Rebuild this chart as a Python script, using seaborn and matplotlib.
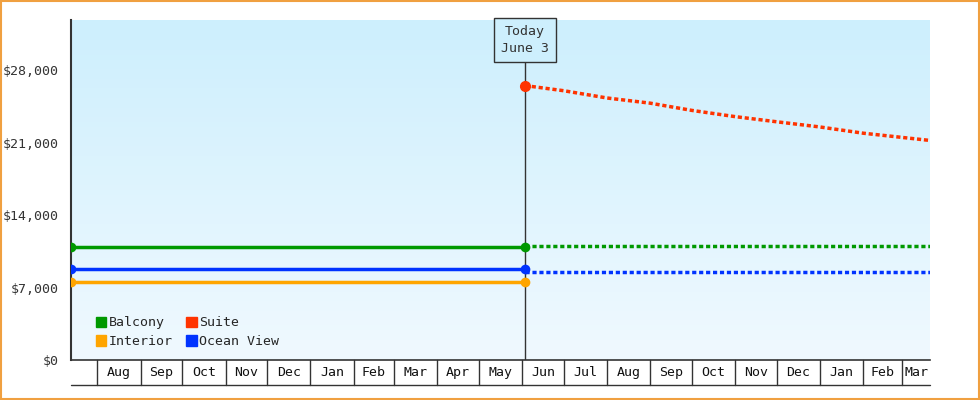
import numpy as np
import pandas as pd
import matplotlib
matplotlib.use("Agg")
import matplotlib.pyplot as plt
import matplotlib.transforms as mtrans
from matplotlib.patches import Rectangle
import seaborn as sns

sns.set_style("white")
plt.rcParams['font.family'] = ['DejaVu Sans Mono']

# data
start = "2023-07-13"
today = "2024-06-03"
end = "2025-03-21"
balcony_past = [10900, 10900]
balcony_future = [11000, 11000]
ocean_past = [8800, 8800]
ocean_future = [8500, 8500]
interior_past = [7500, 7500]
suite_dates = ["2024-06-03", "2024-07-01", "2024-08-01", "2024-09-01", "2024-10-01",
               "2024-11-01", "2024-12-01", "2025-01-01", "2025-02-01", "2025-03-21"]
suite_vals = [26500, 26000, 25300, 24800, 24100, 23500, 23000, 22500, 21900, 21200]
months = pd.date_range("2023-08-01", "2025-03-01", freq="MS")
month_labels = [d.strftime("%b") for d in months]
colors = {"Balcony": "#009900", "Interior": "#ffa500", "Suite": "#ff3300", "Ocean View": "#0033ff"}

fig = plt.figure(figsize=(9.8, 4), dpi=100)
ax = fig.add_axes([71/980, 40/400, 859/980, 340/400])

t0, t1, tn = pd.Timestamp(start), pd.Timestamp(today), pd.Timestamp(end)
ax.set_xlim(t0, tn)
ax.set_ylim(0, 32830)

grad = np.linspace(0, 1, 256).reshape(-1, 1)
cmap = matplotlib.colors.LinearSegmentedColormap.from_list("g", ["#cdeffd", "#f0f9ff"])
ax.imshow(grad, cmap=cmap, extent=[0, 1, 0, 1], transform=ax.transAxes, aspect="auto", zorder=0)

dot = (0, (1.2, 0.8))
past = [t0, t1]
fut = [t1, tn]
for name, pv, fv in [("Balcony", balcony_past, balcony_future),
                     ("Ocean View", ocean_past, ocean_future),
                     ("Interior", interior_past, None)]:
    sns.lineplot(x=past, y=pv, ax=ax, color=colors[name], lw=2.5, marker="o",
                 markersize=7, markeredgewidth=0, zorder=3)
    if fv is not None:
        sns.lineplot(x=fut, y=fv, ax=ax, color=colors[name], lw=2.5, linestyle=dot, zorder=3)
sdates = pd.to_datetime(suite_dates)
sns.lineplot(x=sdates, y=suite_vals, ax=ax, color=colors["Suite"], lw=2.5, linestyle=dot, zorder=3)
ax.plot([sdates[0]], [suite_vals[0]], "o", color=colors["Suite"], ms=7, zorder=4)

# today line and label
ax.axvline(t1, color="#333333", lw=1, zorder=2)
ax.annotate("Today\nJune 3", xy=(t1, 1 - 20 / 340), xycoords=("data", "axes fraction"),
            ha="center", va="center", fontsize=9.5, color="#333333", linespacing=1.4,
            bbox=dict(boxstyle="square,pad=0.55", fc="#cdeffd", ec="#333333", lw=1),
            annotation_clip=False, zorder=5)

# y axis
ticks = np.arange(0, 28001, 7000)
ax.set_yticks(ticks)
ax.set_yticklabels([f"${v:,}" for v in ticks], fontsize=9.5, color="#333333")
ax.tick_params(axis="y", length=5, width=1.5, color="#333333", direction="out")
ax.set_xticks([])
ax.set_xlabel("")
for s in ["top", "right"]:
    ax.spines[s].set_visible(False)
ax.spines["left"].set_linewidth(1.5)
ax.spines["bottom"].set_linewidth(1.2)
ax.spines["left"].set_color("#333333")
ax.spines["bottom"].set_color("#333333")

# month cells below axis
tr = mtrans.blended_transform_factory(ax.transData, ax.transAxes)
h = 25 / 340
ax.plot([0, 1], [-h, -h], transform=ax.transAxes, color="#333333", lw=1, clip_on=False)
edges = list(months) + [tn]
for i, m in enumerate(months):
    ax.plot([m, m], [0, -h], transform=tr, color="#333333", lw=1, clip_on=False)
    mid = m + (edges[i + 1] - m) / 2
    ax.text(mid, -h / 2, month_labels[i], transform=tr, ha="center", va="center",
            fontsize=9.5, color="#111111")

# legend
handles = [Rectangle((0, 0), 1, 1, color=colors[n]) for n in ["Balcony", "Interior", "Suite", "Ocean View"]]
ax.legend(handles, ["Balcony", "Interior", "Suite", "Ocean View"], ncol=2, loc="lower left",
          bbox_to_anchor=(0.015, 0.0), frameon=False, fontsize=9.5, handlelength=0.8,
          handleheight=0.8, handletextpad=0.2, columnspacing=1.0, labelspacing=0.45)

fig.patches.append(Rectangle((0.001, 0.002), 0.998, 0.996, transform=fig.transFigure,
                             fill=False, ec="#f0a040", lw=1.5))
fig.savefig("out.png", dpi=100)
